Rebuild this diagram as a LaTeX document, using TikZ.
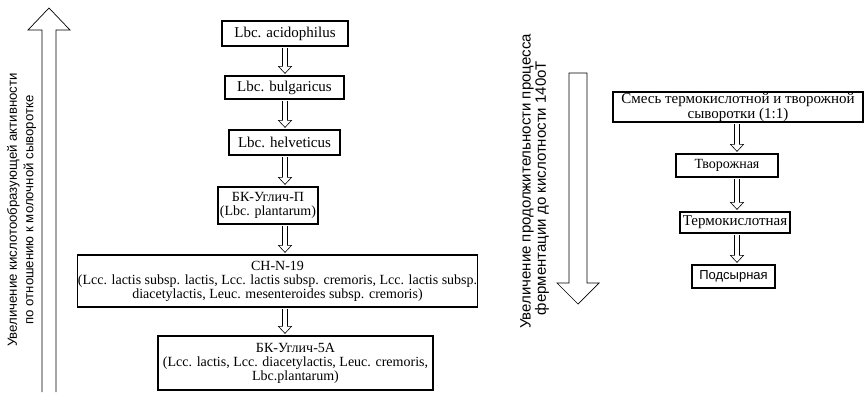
\documentclass[tikz,border=0pt]{standalone}
\usepackage{fontspec}
\setmainfont{Liberation Serif}
\newfontfamily\sansru{Liberation Sans}
\usetikzlibrary{calc}
\newcommand\hollowarrow[3]{%
  \coordinate (ha) at (#1.south -| #3);
  \coordinate (hb) at (#2.north -| #3);
  \draw[hollow] ($(ha)+(-2.5,1.5)$) -- ($(hb)+(-2.5,-9)$) -- ($(hb)+(-6.5,-9)$) -- ($(hb)+(0,-2)$)
     -- ($(hb)+(6.5,-9)$) -- ($(hb)+(2.5,-9)$) -- ($(ha)+(2.5,1.5)$);}
\begin{document}
\begin{tikzpicture}[x=1pt,y=-1pt,
  box/.style={draw, line width=1.2pt, inner sep=0pt, align=center, font=\fontsize{14}{14}\selectfont},
  bigbox/.style={box, font=\fontsize{15}{15}\selectfont},
  hollow/.style={draw, line width=0.6pt, fill=white},
  bigarrow/.style={draw, line width=0.7pt},
  sidetext/.style={rotate=90, align=center, inner sep=0pt, font=\sansru\fontsize{13.2}{16.5}\selectfont},
  sidetextr/.style={rotate=90, inner sep=0pt, font=\sansru\fontsize{15}{15}\selectfont}]
\useasboundingbox (0,0) rectangle (865,392);
% left chain
\node[bigbox, minimum width=126pt, minimum height=25pt] (acid) at (285,33.5) {Lbc. acidophilus};
\node[bigbox, minimum width=119pt, minimum height=23pt] (bulg) at (284.5,87.5) {Lbc. bulgaricus};
\node[bigbox, minimum width=111pt, minimum height=25pt] (helv) at (284.5,142.5) {Lbc. helveticus};
\node[box, minimum width=100pt, minimum height=37pt] (bkp) at (268,205.5) {БК-Углич-П\\(Lbc. plantarum)};
\node[box, minimum width=395pt, minimum height=52pt] (ch) at (277.5,281) {CH-N-19\\(Lcc. lactis subsp. lactis, Lcc. lactis subsp. cremoris, Lcc. lactis subsp.\\diacetylactis, Leuc. mesenteroides subsp. cremoris)};
\node[box, minimum width=275pt, minimum height=54pt] (bk5) at (295.5,363) {БК-Углич-5А\\(Lcc. lactis, Lcc. diacetylactis, Leuc. cremoris,\\Lbc.plantarum)};
\coordinate (colL) at (285,0);
\hollowarrow{acid}{bulg}{colL}
\hollowarrow{bulg}{helv}{colL}
\hollowarrow{helv}{bkp}{colL}
\hollowarrow{bkp}{ch}{colL}
\hollowarrow{ch}{bk5}{colL}
% right chain
\node[bigbox, minimum width=250pt, minimum height=30pt] (mix) at (738,107) {Смесь термокислотной и творожной\\сыворотки (1:1)};
\node[box, minimum width=102pt, minimum height=23pt] (tvor) at (727,165.5) {Творожная};
\node[bigbox, minimum width=110pt, minimum height=21pt] (term) at (735,222.5) {Термокислотная};
\node[box, minimum width=83pt, minimum height=23pt, font=\sansru\fontsize{13}{13}\selectfont] (pods) at (733.5,276.5) {Подсырная};
\coordinate (colR) at (737,0);
\hollowarrow{mix}{tvor}{colR}
\hollowarrow{tvor}{term}{colR}
\hollowarrow{term}{pods}{colR}
% big arrows
\draw[bigarrow] (42,392) -- (42,30) -- (28,30) -- (49,8) -- (70,30) -- (56,30) -- (56,392);
\draw[bigarrow] (569,73) -- (587,73) -- (587,283) -- (599,283) -- (578,304) -- (557,283) -- (569,283) -- cycle;
% side texts
\node[sidetext] (lt) at (21.5,210) {Увеличение кислотообразующей активности\\по отношению к молочной сыворотке};
\node[sidetextr] (rt1) at (527,181.5) {Увеличение продолжительности процесса};
\node[sidetextr] (rt2) at (542,188) {ферментации до кислотности 140оТ};
\end{tikzpicture}
\end{document}
